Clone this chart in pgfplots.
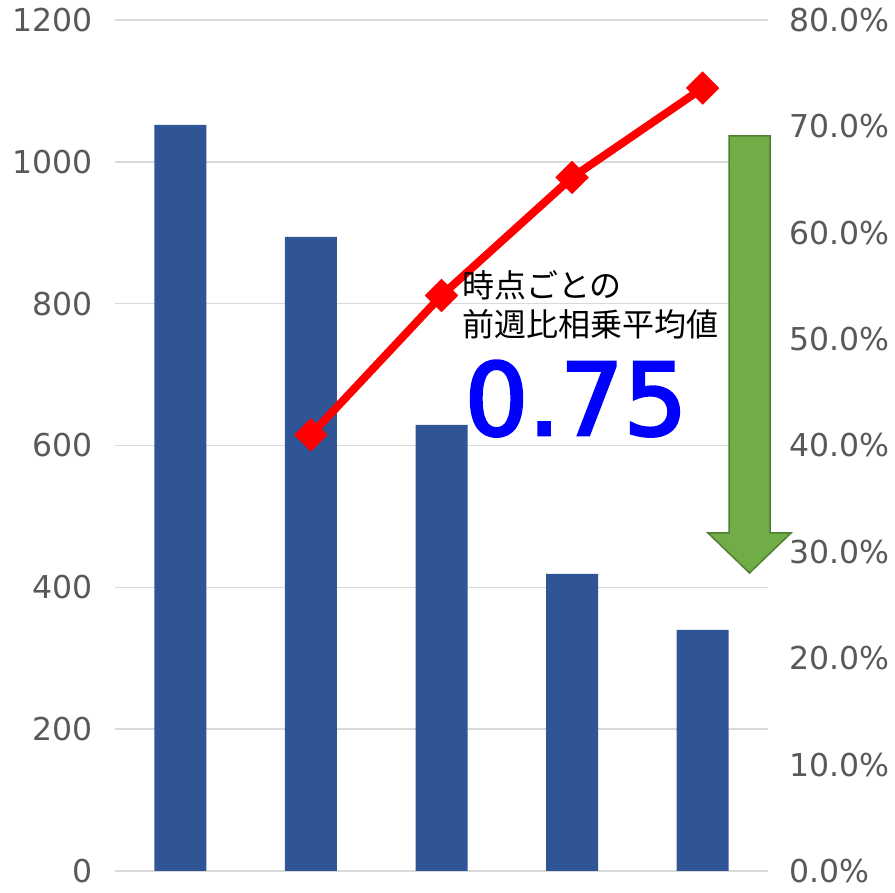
\documentclass[border=0pt]{standalone}
\usepackage{pgfplots}
\pgfplotsset{compat=1.18}
\usepackage{fontspec}
\setmainfont{DejaVu Sans}
\newfontfamily\jp{Noto Sans CJK JP}
\newfontfamily\bignum[FakeBold=3]{DejaVu Sans}
\definecolor{barblue}{HTML}{2F5597}
\definecolor{ticktext}{HTML}{595959}
\definecolor{gridc}{HTML}{D9D9D9}
\definecolor{arrowfill}{HTML}{70AD47}
\definecolor{arrowdraw}{HTML}{507E32}
\definecolor{lineRed}{HTML}{FF0000}
\begin{document}
\begin{tikzpicture}
\pgfplotsset{
  common/.style={
    scale only axis, width=653pt, height=851pt,
    xmin=-0.5, xmax=4.5, xtick=\empty,
    axis line style={draw=none},
    major tick style={draw=none},
    tick label style={font=\fontsize{31.5}{31.5}\selectfont, text=ticktext},
    /pgf/number format/assume math mode=true,
    clip=false,
  }
}
\begin{axis}[common, name=ax, ymin=0, ymax=1200, ytick={0,200,...,1200},
  ymajorgrids, grid style={gridc, line width=1.5pt},
  yticklabel style={anchor=east, inner sep=0pt, xshift=-22pt},
  /pgf/number format/1000 sep={}]
\addplot[ybar, bar width=52pt, fill=barblue, draw=none] coordinates {(0,1052) (1,894) (2,629) (3,419) (4,340)};
\end{axis}
\begin{axis}[common, ymin=0, ymax=80, ytick={0,10,...,80}, yticklabel pos=right,
  yticklabel={\pgfmathprintnumber[fixed,fixed zerofill,precision=1]{\tick}\%},
  yticklabel style={anchor=west, inner sep=0pt, xshift=21pt}]
\addplot[lineRed, line width=8pt, mark=square*, mark size=11.7pt,
  mark options={rotate=45, solid, line width=0.1pt, fill=lineRed, draw=lineRed}]
  coordinates {(1,41.0) (2,54.1) (3,65.2) (4,73.6)};
\end{axis}
\begin{scope}[shift={(ax.south west)}, x=1pt, y=1pt]
\filldraw[fill=arrowfill, draw=arrowdraw, line width=1.5pt, line join=miter]
  (614,735)--(655,735)--(655,338)--(676,338)--(634.5,298)--(593,338)--(614,338)--cycle;
\node[anchor=base west, inner sep=0pt, font=\jp\fontsize{32}{32}\selectfont] at (347,573) {時点ごとの};
\node[anchor=base west, inner sep=0pt, font=\jp\fontsize{32}{32}\selectfont] at (347,534) {前週比相乗平均値};
\node[anchor=base west, inner sep=0pt, text=blue, font=\bignum\fontsize{100}{100}\selectfont] at (349.5,436) {0.75};
\pgfresetboundingbox
\path (-115,-22) rectangle (780,871);
\end{scope}
\end{tikzpicture}
\end{document}
